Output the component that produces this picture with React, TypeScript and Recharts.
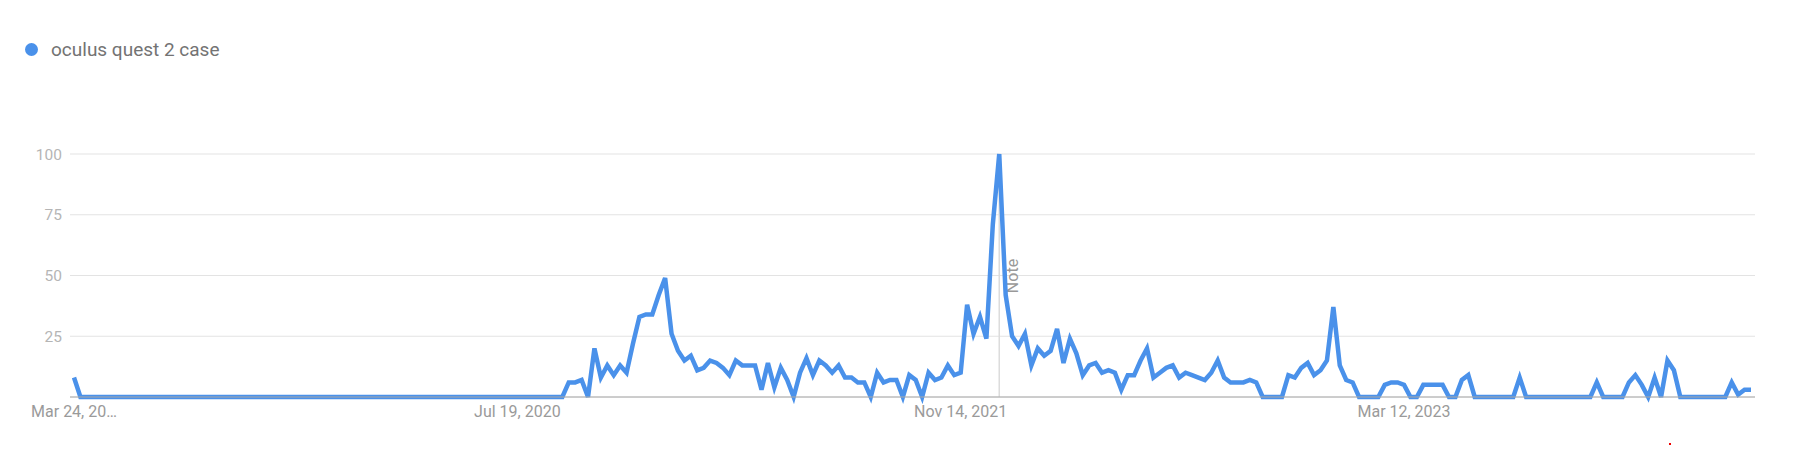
import { CartesianGrid, Line, LineChart, ReferenceLine, XAxis, YAxis } from 'recharts';

// Weekly interest for "oculus quest 2 case", Mar 24 2019 → Mar 17 2024 (262 weeks).
const seriesName = 'oculus quest 2 case';

const interest2019to2020: number[] = [
  8, 0, 0, 0, 0, 0, 0, 0, 0, 0, 0, 0, 0, 0, 0, 0, 0, 0, 0, 0,
  0, 0, 0, 0, 0, 0, 0, 0, 0, 0, 0, 0, 0, 0, 0, 0, 0, 0, 0, 0,
  0, 0, 0, 0, 0, 0, 0, 0, 0, 0, 0, 0, 0, 0, 0, 0, 0, 0, 0, 0,
  0, 0, 0, 0, 0, 0, 0, 0, 0, 0, 0, 0, 0, 0, 0, 0, 0, 6, 6, 7,
  0, 20, 8, 13, 9, 13, 10, 22, 33, 34, 34, 42, 49, 26, 19, 15, 17, 11, 12, 15,
];

const interest2021to2022: number[] = [
  14, 12, 9, 15, 13, 13, 13, 3, 14, 4, 12, 7, 0, 10, 16, 9, 15, 13, 10, 13,
  8, 8, 6, 6, 0, 10, 6, 7, 7, 0, 9, 7, 0, 10, 7, 8, 13, 9, 10, 38,
  26, 33, 24, 71, 100, 42, 25, 21, 26, 13, 20, 17, 19, 28, 14, 24, 18, 9, 13, 14,
  10, 11, 10, 3, 9, 9, 15, 20, 8, 10, 12, 13, 8, 10, 9, 8, 7, 10, 15, 8,
];

const interest2023to2024: number[] = [
  6, 6, 6, 7, 6, 0, 0, 0, 0, 9, 8, 12, 14, 9, 11, 15, 37, 13, 7, 6,
  0, 0, 0, 0, 5, 6, 6, 5, 0, 0, 5, 5, 5, 5, 0, 0, 7, 9, 0, 0,
  0, 0, 0, 0, 0, 8, 0, 0, 0, 0, 0, 0, 0, 0, 0, 0, 0, 6, 0, 0,
  0, 0, 6, 9, 5, 0, 8, 0, 15, 11, 0, 0, 0, 0, 0, 0, 0, 0, 6, 1,
  3, 3,
];

const interest = [...interest2019to2020, ...interest2021to2022, ...interest2023to2024];

const tickWeeks = [0, 69, 138, 207];
const tickLabels = ['Mar 24, 20…', 'Jul 19, 2020', 'Nov 14, 2021', 'Mar 12, 2023'];
const yTicks = [0, 25, 50, 75, 100];
const noteWeek = 144;

const rows = interest.map((v, i) => ({ i, v }));

const BLUE = '#4a91ea';
const FONT = 'Roboto, "Noto Sans", sans-serif';

function XTick(props: any) {
  const { x, y, payload } = props;
  const k = tickWeeks.indexOf(payload.value);
  return (
    <text x={x} y={y} dy={12} textAnchor="middle" fill="#9a9a9a" fontSize={16} fontFamily={FONT}>
      {tickLabels[k]}
    </text>
  );
}

function YTick(props: any) {
  const { y, payload } = props;
  if (payload.value === 0) return <g />;
  return (
    <text x={62} y={y} dy={5.5} textAnchor="end" fill="#b5b5b5" fontSize={15.5} fontFamily={FONT}>
      {payload.value}
    </text>
  );
}

function NoteLabel(props: any) {
  const vb = props.viewBox ?? {};
  const x = (vb.x ?? 0) + 19;
  const y = (vb.y ?? 0) + 122;
  return (
    <text
      x={x}
      y={y}
      transform={`rotate(-90 ${x} ${y})`}
      textAnchor="middle"
      fill="#999"
      fontSize={16}
      fontFamily={FONT}
    >
      Note
    </text>
  );
}

export default function App() {
  return (
    <div style={{ position: 'absolute', left: 0, top: 0, width: 1793, height: 473, background: '#fff' }}>
      <div
        style={{
          position: 'absolute',
          left: 25,
          top: 38,
          display: 'flex',
          alignItems: 'center',
          fontFamily: FONT,
          fontSize: 19,
          color: '#737373',
        }}
      >
        <span
          style={{ width: 13, height: 13, borderRadius: '50%', background: BLUE, display: 'inline-block', marginRight: 13 }}
        />
        <span>{seriesName}</span>
      </div>
      <LineChart width={1793} height={473} data={rows} margin={{ top: 154, right: 38, bottom: 46, left: 0 }}>
        <CartesianGrid vertical={false} stroke="#e3e3e3" />
        <XAxis
          type="number"
          dataKey="i"
          domain={[0, interest.length - 1]}
          ticks={tickWeeks}
          interval={0}
          padding={{ left: 4, right: 4 }}
          axisLine={{ stroke: '#a8a8a8' }}
          tickLine={false}
          tick={<XTick />}
          height={30}
        />
        <YAxis
          domain={[0, 100]}
          ticks={yTicks}
          interval={0}
          width={70}
          axisLine={false}
          tickLine={false}
          tick={<YTick />}
        />
        <ReferenceLine x={noteWeek} stroke="#dcdcdc" strokeWidth={1.5} label={<NoteLabel />} />
        <Line
          type="linear"
          dataKey="v"
          stroke={BLUE}
          strokeWidth={4.5}
          dot={false}
          activeDot={false}
          isAnimationActive={false}
        />
      </LineChart>
      <div style={{ position: 'absolute', left: 1669, top: 443, width: 2, height: 2, background: '#e00' }} />
    </div>
  );
}
